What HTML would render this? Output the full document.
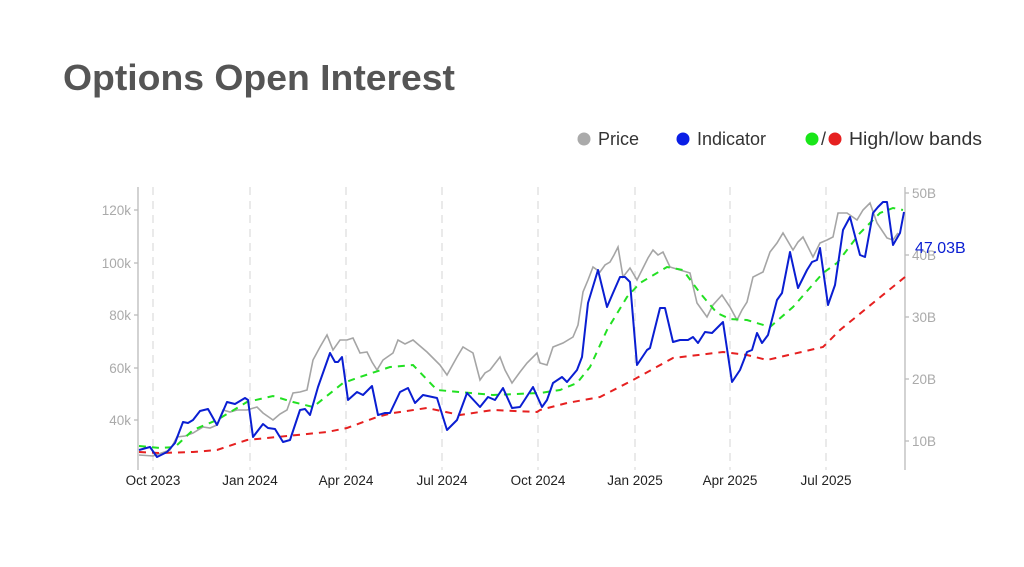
<!DOCTYPE html>
<html><head><meta charset="utf-8"><style>
body{margin:0;width:1024px;height:562px;background:#fff;overflow:hidden;font-family:"Liberation Sans",sans-serif}
</style></head><body>
<svg width="1024" height="562" viewBox="0 0 1024 562" xmlns="http://www.w3.org/2000/svg" font-family="Liberation Sans, sans-serif">
<text x="63" y="90" font-size="36" font-weight="bold" fill="#555" textLength="392" lengthAdjust="spacingAndGlyphs">Options Open Interest</text>
<g font-size="18" fill="#333">
<circle cx="584" cy="139" r="6.5" fill="#aaa"/><text x="598" y="145">Price</text>
<circle cx="683" cy="139" r="6.5" fill="#0a1ee6"/><text x="697" y="145">Indicator</text>
<circle cx="812" cy="139" r="6.5" fill="#19e619"/><text x="821" y="145">/</text>
<circle cx="835" cy="139" r="6.5" fill="#e62020"/><text x="849" y="145" textLength="133" lengthAdjust="spacingAndGlyphs">High/low bands</text>
</g>
<g stroke="#ddd" stroke-width="1.2" stroke-dasharray="8,6">
<line x1="153" y1="187" x2="153" y2="470"/><line x1="250" y1="187" x2="250" y2="470"/>
<line x1="346" y1="187" x2="346" y2="470"/><line x1="442" y1="187" x2="442" y2="470"/>
<line x1="538" y1="187" x2="538" y2="470"/><line x1="635" y1="187" x2="635" y2="470"/>
<line x1="730" y1="187" x2="730" y2="470"/><line x1="826" y1="187" x2="826" y2="470"/>
</g>
<g stroke="#bbb" stroke-width="1.3">
<line x1="138" y1="187" x2="138" y2="470"/><line x1="905" y1="187" x2="905" y2="470"/>
<line x1="134" y1="210" x2="138" y2="210"/><line x1="134" y1="263" x2="138" y2="263"/><line x1="134" y1="315" x2="138" y2="315"/><line x1="134" y1="368" x2="138" y2="368"/><line x1="134" y1="420" x2="138" y2="420"/>
<line x1="905" y1="193" x2="909" y2="193"/><line x1="905" y1="255" x2="909" y2="255"/><line x1="905" y1="317" x2="909" y2="317"/><line x1="905" y1="379" x2="909" y2="379"/><line x1="905" y1="441" x2="909" y2="441"/>
</g>
<g font-size="13.5" fill="#aaa" text-anchor="end">
<text x="131" y="215">120k</text><text x="131" y="268">100k</text><text x="131" y="320">80k</text><text x="131" y="373">60k</text><text x="131" y="425">40k</text>
</g>
<g font-size="13.5" fill="#aaa">
<text x="912" y="198">50B</text><text x="912" y="260">40B</text><text x="912" y="322">30B</text><text x="912" y="384">20B</text><text x="912" y="446">10B</text>
</g>
<g font-size="13.5" fill="#222" text-anchor="middle">
<text x="153" y="485">Oct 2023</text><text x="250" y="485">Jan 2024</text><text x="346" y="485">Apr 2024</text><text x="442" y="485">Jul 2024</text><text x="538" y="485">Oct 2024</text><text x="635" y="485">Jan 2025</text><text x="730" y="485">Apr 2025</text><text x="826" y="485">Jul 2025</text>
</g>
<polyline fill="none" stroke="#a5a5a5" stroke-width="1.6" points="139,455 153,456 170,450 177,437 185,436 193,433 203,427 210,428 217,425 223,410 230,412 237,410 247,410 257,407 263,413 273,420 280,414 287,410 293,393 300,392 307,390 313,360 320,347 327,335 333,350 340,340 347,340 353,338 360,353 367,352 372,362 377,370 383,360 393,353 398,340 405,344 413,340 420,346 427,352 433,358 440,365 447,375 457,357 463,347 468,350 473,353 480,380 485,373 490,370 500,357 505,370 512,383 520,372 527,363 537,353 540,363 547,365 553,347 563,343 573,337 578,325 583,292 588,280 593,267 600,272 605,265 610,262 614,255 618,247 623,277 630,268 637,280 643,268 648,258 653,250 658,255 663,252 670,267 680,270 690,273 697,303 707,317 713,305 722,295 730,307 737,320 742,310 747,302 753,277 763,272 770,252 777,243 783,233 793,250 798,242 803,237 813,257 820,243 827,240 833,237 838,213 847,213 857,220 863,210 870,203 877,223 887,238 893,240 898,233"/>
<polyline fill="none" stroke="#e62020" stroke-width="2" stroke-dasharray="7,6" points="139,452 160,453 193,452 217,450 247,440 277,437 327,432 347,428 377,417 393,413 427,408 460,415 493,410 537,412 540,410 567,403 600,397 633,380 673,358 723,352 747,355 767,360 823,347 840,330 873,303 905,277"/>
<polyline fill="none" stroke="#22e022" stroke-width="2" stroke-dasharray="7,6" points="139,446 160,448 175,447 193,430 217,420 247,402 273,396 293,402 313,407 343,383 360,377 390,367 413,365 437,390 493,395 540,393 560,390 577,383 590,367 607,330 627,297 640,283 667,267 683,270 700,293 717,313 730,319 747,320 770,327 793,307 823,273 837,263 860,233 880,213 893,208 903,210"/>
<polyline fill="none" stroke="#0a1ed2" stroke-width="2" stroke-linejoin="round" points="139,450 150,447 157,457 167,452 175,443 183,422 188,423 193,420 200,411 208,409 217,425 227,402 235,404 245,398 248,400 253,437 263,424 268,428 275,429 283,442 290,440 300,410 305,409 310,415 318,387 330,353 335,362 338,362 342,357 348,400 357,392 363,395 372,386 378,415 385,413 390,413 400,392 408,388 415,403 423,395 437,398 447,430 457,420 467,393 480,407 488,397 495,400 503,388 512,408 520,407 533,387 542,407 547,400 553,383 562,377 567,382 577,370 582,357 588,303 598,270 607,307 613,293 620,277 625,277 630,282 637,365 647,350 650,348 660,308 665,308 673,342 680,340 688,340 693,337 698,343 705,332 712,333 723,322 732,382 740,370 747,352 752,350 757,333 762,343 768,335 777,300 782,293 790,252 798,288 807,270 812,262 817,260 820,248 828,305 835,285 843,230 850,217 860,255 865,257 873,213 878,207 883,202 887,202 893,245 900,233 904,212"/>
<text x="915" y="253" font-size="16" fill="#0a1ed2">47.03B</text>
</svg>
</body></html>
